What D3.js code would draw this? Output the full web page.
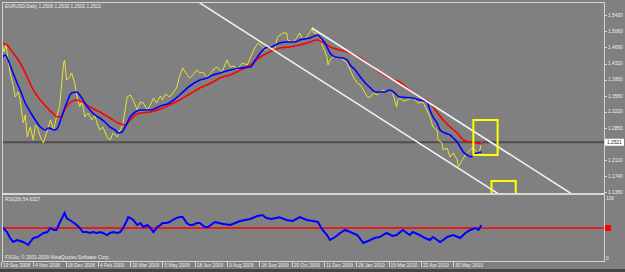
<!DOCTYPE html>
<html>
<head>
  <title>EURUSD Daily</title>
  <style>
  body {
    margin: 0;
    background: #808080;
  }

  svg {
    display: block;
    font-family: "Liberation Sans", Arial, sans-serif;
  }

  .frame {
    stroke: #d4d4d4;
    stroke-width: 1;
    fill: none;
    shape-rendering: crispedges;
  }

  .lbl {
    font-size: 4.8px;
    fill: #eeeeee;
  }

  .tick {
    stroke: #d4d4d4;
    stroke-width: 1;
    shape-rendering: crispedges;
  }

  .price { fill: none; stroke: #e4e42c; stroke-width: 1; }
  .fast  { fill: none; stroke: #0000ff; stroke-width: 1.6; }
  .slow  { fill: none; stroke: #ff0000; stroke-width: 1.6; }
  .rsi   { fill: none; stroke: #0000ff; stroke-width: 2; }
  .trend { stroke: #f4f4f4; stroke-width: 1.5; }
  .box   { fill: none; stroke: #ffff00; stroke-width: 2; }
  </style>
  <script src="https://d3js.org/d3.v7.min.js"></script>
</head>
<body>
<div id="container"></div>
<script>
var width = 625,
    height = 272

// bar index of each date label (one label every 32 daily bars)
var dateTicks = [0, 32, 64, 96, 128, 160, 192, 224, 256, 288, 320, 352, 384, 416, 448]
var dateLabels = ["19 Sep 2008", "4 Nov 2008", "18 Dec 2008", "4 Feb 2009", "20 Mar 2009",
  "5 May 2009", "18 Jun 2009", "3 Aug 2009", "16 Sep 2009", "29 Oct 2009", "11 Dec 2009",
  "28 Jan 2010", "15 Mar 2010", "22 Apr 2010", "30 May 2010"]

var priceTicks = [1.5430, 1.5060, 1.4690, 1.4320, 1.3950, 1.3580, 1.3220, 1.2850, 1.2110, 1.1740, 1.1380]
var lastPrice = 1.2521
var header = "EURUSD,Daily  1.2506 1.2530 1.2501 1.2521"

// [bar, close]
var closeSeries = [
  [1, 1.4792], [3, 1.4586], [5, 1.4746], [9, 1.4106], [12, 1.3831], [14, 1.3557], [17, 1.3671],
  [19, 1.3488], [22, 1.2962], [24, 1.3145], [26, 1.2641], [29, 1.2870], [32, 1.2573], [34, 1.2916],
  [36, 1.2870], [39, 1.2641], [42, 1.2504], [46, 1.2802], [49, 1.3030], [52, 1.2802], [55, 1.3099],
  [58, 1.3328], [60, 1.3831], [62, 1.4335], [63, 1.4403], [65, 1.3946], [68, 1.4014], [70, 1.4106],
  [73, 1.3877], [76, 1.3488], [78, 1.3328], [80, 1.3488], [83, 1.3099], [86, 1.3191], [90, 1.3030],
  [93, 1.3145], [95, 1.2962], [98, 1.2802], [101, 1.2870], [105, 1.2641], [108, 1.2573], [111, 1.2733],
  [115, 1.2641], [118, 1.2802], [121, 1.2962], [123, 1.3259], [125, 1.3557], [128, 1.3602], [131, 1.3488],
  [135, 1.3259], [138, 1.3442], [141, 1.3419], [145, 1.3259], [148, 1.3374], [151, 1.3534], [154, 1.3419],
  [158, 1.3580], [160, 1.3488], [163, 1.3625], [167, 1.3557], [171, 1.3671], [174, 1.3763], [177, 1.4037],
  [180, 1.4220], [183, 1.4106], [187, 1.3991], [191, 1.4083], [194, 1.4174], [197, 1.4106], [200, 1.4129],
  [204, 1.3991], [207, 1.4083], [210, 1.4174], [214, 1.4243], [219, 1.4129], [224, 1.4403], [227, 1.4243],
  [231, 1.4266], [234, 1.4174], [239, 1.4335], [244, 1.4289], [249, 1.4563], [252, 1.4701], [255, 1.4792],
  [259, 1.4701], [262, 1.4632], [266, 1.4701], [271, 1.4632], [274, 1.4929], [279, 1.5021], [283, 1.5021],
  [284, 1.4861], [289, 1.4815], [293, 1.4907], [296, 1.5021], [299, 1.4861], [303, 1.4929], [308, 1.5112],
  [310, 1.5021], [313, 1.5021], [316, 1.4929], [319, 1.4701], [323, 1.4472], [324, 1.4289], [326, 1.4403],
  [329, 1.4472], [333, 1.4449], [336, 1.4472], [339, 1.4403], [343, 1.4335], [346, 1.4174], [349, 1.4014],
  [353, 1.3877], [356, 1.3831], [359, 1.3717], [363, 1.3557], [366, 1.3557], [369, 1.3648], [373, 1.3602],
  [375, 1.3648], [378, 1.3717], [382, 1.3671], [385, 1.3717], [388, 1.3648], [392, 1.3328], [393, 1.3488],
  [395, 1.3534], [399, 1.3465], [402, 1.3488], [408, 1.3534], [413, 1.3419], [418, 1.3442], [422, 1.3259],
  [425, 1.3099], [428, 1.2870], [432, 1.2802], [433, 1.2573], [437, 1.2504], [438, 1.2344], [442, 1.2390],
  [445, 1.2184], [448, 1.2276], [452, 1.2115], [453, 1.1955], [457, 1.2115], [460, 1.2230], [463, 1.2298],
  [467, 1.2390], [470, 1.2344], [473, 1.2230], [475, 1.2390], [476, 1.2521]
]

// blue moving average
var fastMA = [
  [1, 1.4449], [4, 1.4518], [9, 1.4289], [12, 1.4106], [16, 1.3877], [19, 1.3717], [24, 1.3419],
  [29, 1.3213], [34, 1.3030], [39, 1.2870], [44, 1.2802], [47, 1.2847], [53, 1.2802], [56, 1.2847],
  [60, 1.3099], [65, 1.3419], [70, 1.3648], [75, 1.3671], [78, 1.3602], [83, 1.3419], [88, 1.3259],
  [93, 1.3145], [98, 1.3076], [103, 1.2985], [108, 1.2870], [113, 1.2802], [116, 1.2733], [120, 1.2756],
  [123, 1.2870], [128, 1.3099], [133, 1.3213], [138, 1.3259], [148, 1.3259], [158, 1.3351], [167, 1.3419],
  [177, 1.3602], [187, 1.3808], [197, 1.3946], [204, 1.3991], [210, 1.4060], [217, 1.4106], [227, 1.4174],
  [237, 1.4220], [247, 1.4243], [252, 1.4403], [257, 1.4563], [262, 1.4678], [268, 1.4701], [276, 1.4792],
  [283, 1.4815], [291, 1.4815], [296, 1.4861], [306, 1.4907], [314, 1.4975], [316, 1.4929], [321, 1.4792],
  [326, 1.4563], [331, 1.4472], [339, 1.4449], [343, 1.4403], [346, 1.4289], [351, 1.4174], [356, 1.4014],
  [361, 1.3877], [366, 1.3763], [371, 1.3671], [380, 1.3671], [385, 1.3717], [390, 1.3648], [395, 1.3557],
  [408, 1.3534], [415, 1.3488], [422, 1.3442], [425, 1.3259], [428, 1.3099], [432, 1.2962], [435, 1.2802],
  [440, 1.2733], [445, 1.2687], [448, 1.2619], [452, 1.2527], [455, 1.2413], [458, 1.2298], [462, 1.2230],
  [465, 1.2184], [468, 1.2230], [472, 1.2276], [476, 1.2298]
]

// red moving average
var slowMA = [
  [1, 1.4792], [6, 1.4746], [12, 1.4563], [19, 1.4335], [26, 1.4014], [32, 1.3717], [39, 1.3488],
  [46, 1.3305], [51, 1.3191], [56, 1.3099], [60, 1.3122], [64, 1.3305], [68, 1.3419], [75, 1.3488],
  [81, 1.3442], [88, 1.3328], [98, 1.3213], [108, 1.3076], [116, 1.2962], [123, 1.2916], [128, 1.3030],
  [133, 1.3145], [138, 1.3191], [148, 1.3213], [158, 1.3282], [167, 1.3374], [177, 1.3488], [187, 1.3625],
  [197, 1.3763], [204, 1.3831], [210, 1.3900], [217, 1.3991], [227, 1.4060], [237, 1.4174], [247, 1.4289],
  [257, 1.4472], [266, 1.4586], [276, 1.4678], [286, 1.4701], [296, 1.4746], [306, 1.4815], [313, 1.4861],
  [318, 1.4815], [326, 1.4701], [336, 1.4632], [346, 1.4563], [356, 1.4449], [366, 1.4289], [375, 1.4129],
  [385, 1.3991], [395, 1.3900], [405, 1.3717], [415, 1.3557], [425, 1.3419], [432, 1.3213], [438, 1.3030],
  [445, 1.2870], [452, 1.2733], [458, 1.2573], [465, 1.2527], [472, 1.2504], [477, 1.2481]
]

var rsiLabel = "RSI(28) 54.6327"
var rsiLevel = 50
var rsiSeries = [
  [1, 51.7], [4, 46.7], [6, 43.3], [9, 33.3], [12, 26.7], [16, 30], [19, 28.3], [22, 26.7], [24, 25],
  [27, 21.7], [29, 26.7], [32, 33.3], [36, 35], [39, 38.3], [42, 41.7], [46, 43.3], [49, 50], [52, 46.7],
  [55, 46.7], [58, 58.3], [61, 68.3], [63, 75], [65, 66.7], [68, 63.3], [71, 60], [75, 55], [78, 50],
  [81, 43.3], [85, 43.3], [88, 41.7], [91, 43.3], [95, 41.7], [98, 43.3], [101, 41.7], [105, 38.3],
  [108, 41.7], [111, 43.3], [115, 41.7], [118, 43.3], [121, 50], [125, 63.3], [126, 68.3], [128, 66.7],
  [131, 63.3], [135, 55], [138, 58.3], [141, 51.7], [145, 55], [148, 50], [151, 43.3], [155, 51.7],
  [158, 55], [160, 58.3], [164, 58.3], [167, 60], [170, 63.3], [174, 66.7], [177, 68.3], [180, 68.3],
  [184, 58.3], [187, 55], [190, 55], [194, 58.3], [197, 58.3], [202, 51.7], [205, 51.7], [212, 60],
  [219, 57], [227, 55], [237, 61.7], [247, 65], [254, 70], [259, 71.7], [263, 66.7], [268, 65], [276, 68],
  [283, 63.3], [289, 61.7], [296, 68.3], [303, 63.3], [309, 61.7], [314, 60], [318, 48], [323, 38.3],
  [326, 30], [331, 35], [336, 41.7], [341, 46.7], [346, 43.3], [353, 38.3], [359, 25], [366, 30],
  [370, 33.3], [375, 35], [382, 41.7], [388, 36.7], [392, 38.3], [398, 46.7], [405, 38.3], [408, 43.3],
  [415, 38.3], [420, 33.3], [425, 30], [428, 35], [435, 26.7], [438, 30], [442, 35], [448, 38.3],
  [455, 33.3], [460, 41.7], [465, 46.7], [470, 50], [473, 46.7], [476, 54.6]
]

// trend lines: two anchors [bar, price], extendBack = line also runs to the left
var trendLines = [
  { a: [247, 1.4971], b: [445, 1.2047], extendBack: true },
  { a: [308, 1.5135], b: [445, 1.3115], extendBack: false }
]

// rectangles: [bar from, bar to, price top, price bottom]
var boxes = [
  [468, 492, 1.3030, 1.2230],
  [486, 510, 1.1635, 1.1000]
]

var x = d3.scaleLinear().domain([0, 600]).range([1, 606.6])
var y = d3.scaleLinear().domain([1.136, 1.573]).range([193, 2])
var yr = d3.scaleLinear().domain([0, 100]).range([258, 198])

// note: "top" is taken by window.top, so panel edges get their own names
var pLeft = 2, pRight = 604, pTop = 2, mainBottom = 193, rsiTop = 195, rsiBottom = 261

var svg = d3.select("#container").append("svg")
    .attr("width", width)
    .attr("height", height)

svg.append("rect")
  .attr("width", width)
  .attr("height", height)
  .attr("fill", "#808080")

svg.append("rect")
  .attr("y", 269)
  .attr("width", width)
  .attr("height", height - 269)
  .attr("fill", "#464646")

var defs = svg.append("defs")
defs.append("clipPath").attr("id", "clipMain")
  .append("rect")
    .attr("x", pLeft).attr("y", pTop)
    .attr("width", pRight - pLeft).attr("height", mainBottom - pTop)
defs.append("clipPath").attr("id", "clipRsi")
  .append("rect")
    .attr("x", pLeft).attr("y", rsiTop)
    .attr("width", pRight - pLeft).attr("height", rsiBottom - rsiTop)

var main = svg.append("g").attr("clip-path", "url(#clipMain)")

// current price line
main.append("line")
  .attr("x1", pLeft).attr("x2", pRight)
  .attr("y1", y(lastPrice)).attr("y2", y(lastPrice))
  .attr("stroke", "#4e4e4e")
  .attr("stroke-width", 2)

var line = d3.line()
  .x(function(d) { return x(d[0]) })
  .y(function(d) { return y(d[1]) })

var smooth = d3.line()
  .curve(d3.curveMonotoneX)
  .x(function(d) { return x(d[0]) })
  .y(function(d) { return y(d[1]) })

main.append("path").attr("class", "price").attr("d", line(closeSeries))
main.append("path").attr("class", "slow").attr("d", smooth(slowMA))
main.append("path").attr("class", "fast").attr("d", smooth(fastMA))

main.selectAll(".trend")
  .data(trendLines)
.enter().append("line")
  .attr("class", "trend")
  .attr("x1", function(d) { return x(d.extendBack ? 0 : d.a[0]) })
  .attr("y1", function(d) {
    var k = (d.b[1] - d.a[1]) / (d.b[0] - d.a[0])
    return y(d.extendBack ? d.a[1] - k * d.a[0] : d.a[1])
  })
  .attr("x2", x(600))
  .attr("y2", function(d) {
    var k = (d.b[1] - d.a[1]) / (d.b[0] - d.a[0])
    return y(d.a[1] + k * (600 - d.a[0]))
  })

main.selectAll(".box")
  .data(boxes)
.enter().append("rect")
  .attr("class", "box")
  .attr("x", function(d) { return x(d[0]) })
  .attr("y", function(d) { return y(d[2]) })
  .attr("width", function(d) { return x(d[1]) - x(d[0]) })
  .attr("height", function(d) { return y(d[3]) - y(d[2]) })

// rsi panel
var rsi = svg.append("g").attr("clip-path", "url(#clipRsi)")

rsi.append("line")
  .attr("x1", pLeft).attr("x2", pRight)
  .attr("y1", yr(rsiLevel)).attr("y2", yr(rsiLevel))
  .attr("stroke", "#ff0000")
  .attr("stroke-width", 1.5)

rsi.append("path")
  .attr("class", "rsi")
  .attr("d", d3.line()
    .x(function(d) { return x(d[0]) })
    .y(function(d) { return yr(d[1]) })(rsiSeries))

// frames
svg.append("path")
  .attr("class", "frame")
  .attr("d", "M" + (pLeft + 0.5) + "," + (rsiBottom + 0.5) + "V" + (pTop + 0.5) + "H" + (pRight + 0.5) + "V" + (rsiBottom + 0.5) + "H" + (pLeft + 0.5))

svg.append("line")
  .attr("x1", pLeft).attr("x2", pRight + 1)
  .attr("y1", mainBottom + 1).attr("y2", mainBottom + 1)
  .attr("stroke", "#d8d8d8")
  .attr("stroke-width", 2)

// price axis
var pa = svg.append("g")
pa.selectAll(".tick")
  .data(priceTicks)
.enter().append("line")
  .attr("class", "tick")
  .attr("x1", pRight).attr("x2", pRight + 3)
  .attr("y1", function(d) { return Math.round(y(d)) + 0.5 })
  .attr("y2", function(d) { return Math.round(y(d)) + 0.5 })
pa.selectAll(".lbl")
  .data(priceTicks)
.enter().append("text")
  .attr("class", "lbl")
  .attr("x", pRight + 4)
  .attr("y", function(d) { return y(d) })
  .attr("dy", "0.35em")
  .text(function(d) { return d.toFixed(4) })

pa.append("rect")
  .attr("x", pRight + 1)
  .attr("y", y(lastPrice) - 3.5)
  .attr("width", 19)
  .attr("height", 7)
  .attr("fill", "#ffffff")
pa.append("text")
  .attr("class", "lbl")
  .attr("x", pRight + 3)
  .attr("y", y(lastPrice))
  .attr("dy", "0.35em")
  .style("fill", "#222")
  .text(lastPrice.toFixed(4))

// rsi axis
svg.append("text")
  .attr("class", "lbl")
  .attr("x", pRight + 2)
  .attr("y", yr(100))
  .attr("dy", "0.35em")
  .text("100")
svg.append("text")
  .attr("class", "lbl")
  .attr("x", pRight + 2)
  .attr("y", yr(0))
  .attr("dy", "0.35em")
  .text("0")
svg.append("rect")
  .attr("x", pRight + 1)
  .attr("y", yr(rsiLevel) - 3)
  .attr("width", 6)
  .attr("height", 6)
  .attr("fill", "#ff0000")

// date axis
var da = svg.append("g")
da.selectAll(".tick")
  .data(dateTicks)
.enter().append("line")
  .attr("class", "tick")
  .attr("x1", function(d) { return Math.round(x(d)) + 0.5 })
  .attr("x2", function(d) { return Math.round(x(d)) + 0.5 })
  .attr("y1", rsiBottom + 1)
  .attr("y2", rsiBottom + 6)
da.selectAll(".lbl")
  .data(dateTicks)
.enter().append("text")
  .attr("class", "lbl")
  .attr("x", function(d) { return x(d) + 2 })
  .attr("y", 267)
  .text(function(d, i) { return dateLabels[i] })

// titles
svg.append("text")
  .attr("class", "lbl")
  .attr("x", 5)
  .attr("y", 8)
  .text(header)
svg.append("text")
  .attr("class", "lbl")
  .attr("x", 5)
  .attr("y", 201)
  .text(rsiLabel)
svg.append("text")
  .attr("class", "lbl")
  .attr("x", 5)
  .attr("y", 259)
  .text("FXGlo, \u00a9 2001-2009 MetaQuotes Software Corp.")
</script>
</body>
</html>
